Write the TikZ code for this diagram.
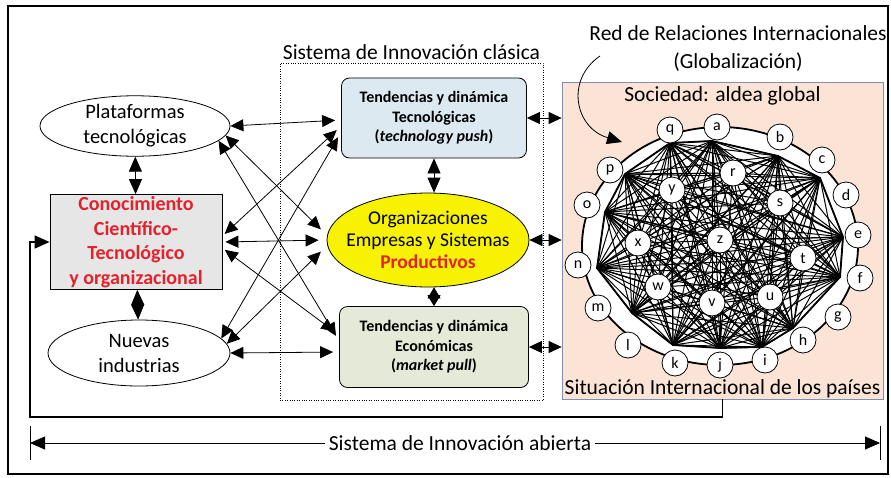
\documentclass[tikz,border=0pt]{standalone}
\usepackage{fontspec}
\setmainfont{Carlito}
\usepackage{tikz}
\usetikzlibrary{arrows.meta,positioning,shapes.geometric}

\definecolor{redtxt}{HTML}{E3222B}
\definecolor{bluebox}{HTML}{DCE9F1}
\definecolor{greenbox}{HTML}{E4EAD7}
\definecolor{yellowell}{HTML}{F7F300}
\definecolor{peach}{HTML}{FBE4D5}
\definecolor{panelline}{HTML}{8090AA}
\definecolor{greybox}{HTML}{E6E6E6}

\tikzset{
  big/.style={font=\fontsize{21.5}{25}\selectfont},
  oval/.style={ellipse, draw, thick, fill=white, inner sep=0pt, align=center, font=\fontsize{20.5}{25}\selectfont},
  tendbox/.style={draw, thick, rounded corners=8pt, minimum width=185pt, minimum height=80pt, align=center, font=\bfseries\fontsize{16}{19.5}\selectfont},
  country/.style={circle, draw, thick, fill=white, minimum size=26pt, inner sep=0pt, font=\fontsize{16}{16}\selectfont},
  mesh/.style={line width=1pt},
  onehead/.style={-{Triangle[length=15pt,width=13pt]}},
  twohead/.style={{Triangle[length=13pt,width=12pt]}-{Triangle[length=13pt,width=12pt]}, thick},
  diamarrow/.style={{Triangle[length=15pt,width=13pt]}-{Triangle[length=15pt,width=13pt]}, thick},
}

\begin{document}
\begin{tikzpicture}[x=1pt,y=-1pt]

\useasboundingbox (0,0) rectangle (891,477);
\draw[line width=1.5pt] (8,6) rectangle (888,474);

% left column
\node(plat)[oval, minimum width=190pt, minimum height=58pt] at (135,126) {Plataformas\\tecnológicas};

\node(cono)[draw, thick, fill=greybox, minimum width=172pt, minimum height=95pt, inner sep=1pt, align=center, text=redtxt, font=\bfseries\fontsize{20}{24.5}\selectfont] at (136,242) {Conocimiento\\Científico-\\Tecnológico\\y organizacional};

\node(nuev)[oval, minimum width=182pt, minimum height=66pt] at (139,353) {Nuevas\\industrias};

% sistema clasico
\node(clas)[draw, dotted, minimum width=263pt, minimum height=337pt] at (411.5,231.5) {};

\node(clastit)[big, inner sep=1pt, above = 2pt of clas] {Sistema de Innovación clásica};

\node(tecn)[tendbox, fill=bluebox] at (434,118) {Tendencias y dinámica\\Tecnológicas\\(\textit{technology push})};

\node(orga)[ellipse, draw, thick, fill=yellowell, minimum width=202pt, minimum height=94pt, inner xsep=-14pt, inner ysep=-4pt, align=center, font=\fontsize{19.5}{22}\selectfont] at (428,240) {Organizaciones\\Empresas y Sistemas\\\textcolor{redtxt}{\textbf{Productivos}}};

\node(econ)[tendbox, fill=greenbox, minimum width=189pt, minimum height=81pt] at (434,347) {Tendencias y dinámica\\Económicas\\(\textit{market pull})};

% panel internacional
\node(soc)[draw=panelline, fill=peach, thick, minimum width=321pt, minimum height=317pt] at (722.5,240.5) {};

\node(socit)[big, inner sep=1pt, below = 4pt of soc.north] {Sociedad: aldea global};

\node(situ)[big, inner sep=0pt, above = 1pt of soc.south] {Situación Internacional de los países};

\node(redtit)[align=center, inner sep=0pt, font=\fontsize{21.5}{28}\selectfont] at (738,49) {Red de Relaciones Internacionales\\(Globalización)};

% red de paises
\draw[line width=1.8pt, fill=white] (720,246) ellipse [x radius=138pt, y radius=119pt];

\coordinate(h1) at (670,143);
\coordinate(h2) at (712,141);
\coordinate(h3) at (778,156);
\coordinate(h4) at (820,178);
\coordinate(h5) at (843,237);
\coordinate(h6) at (840,277);
\coordinate(h7) at (793,328);
\coordinate(h8) at (762,347);
\coordinate(h9) at (720,348);
\coordinate(h10) at (673,345);
\coordinate(h11) at (632,313);
\coordinate(h12) at (597,268);
\coordinate(h13) at (605,212);
\coordinate(h14) at (625,174);

\draw[line width=1.8pt] (h1) -- (h2) -- (h3) -- (h4) -- (h5) -- (h6) -- (h7) -- (h8) -- (h9) -- (h10) -- (h11) -- (h12) -- (h13) -- (h14) -- cycle;

\coordinate(pr) at (733,173);
\coordinate(ps) at (780,203);
\coordinate(py) at (672,190);
\coordinate(px) at (638,243);
\coordinate(pz) at (720,240);
\coordinate(pt) at (803,258);
\coordinate(pw) at (658,287);
\coordinate(pv) at (712,303);
\coordinate(pu) at (770,297);

\foreach \i in {1,...,13}{
  \pgfmathtruncatemacro{\k}{\i+1}
  \foreach \j in {\k,...,14}{\draw[mesh] (h\i) -- (h\j);}
}
\foreach \c in {r,s,t,u,v,w,x,y,z}{
  \foreach \i in {1,...,14}{\draw[mesh] (h\i) -- (p\c);}
}

\foreach \c in {r,s,t,u,v,w,x,y,z}{
  \node(c\c)[country] at (p\c) {\c};
}

\node(cq)[country] at (670,130) {q};
\node(ca)[country] at (717,127) {a};
\node(cb)[country] at (780,137) {b};
\node(cc)[country] at (822,160) {c};
\node(cd)[country] at (846,195) {d};
\node(ce)[country] at (858,235) {e};
\node(cf)[country] at (860,278) {f};
\node(cg)[country] at (838,317) {g};
\node(ch)[country] at (803,340) {h};
\node(ci)[country] at (765,360) {i};
\node(cj)[country] at (720,365) {j};
\node(ck)[country] at (675,363) {k};
\node(cl)[country] at (628,345) {l};
\node(cm)[country] at (598,308) {m};
\node(cn)[country] at (578,265) {n};
\node(co)[country] at (587,205) {o};
\node(cp)[country] at (610,170) {p};

\coordinate(globst) at (600,56);
\coordinate(globtip) at (622,142);
\draw[onehead, thick] (globst) .. controls (565,80) and (575,128) .. (globtip);

% conexiones
\draw[diamarrow] (plat) -- (cono);
\draw[diamarrow] (cono) -- (nuev);
\draw[diamarrow] (tecn.south) -- (tecn.south |- orga.north);
\draw[diamarrow, {Triangle[length=11pt,width=13pt]}-{Triangle[length=11pt,width=13pt]}] (econ.north) -- (econ.north |- orga.south);

\draw[twohead, shorten >=6pt] (plat.east) -- ([yshift=-2pt]tecn.west);
\draw[twohead, shorten >=8pt] (plat.-6) -- ([yshift=5pt]orga.west);
\draw[twohead, shorten >=6pt] (plat.-10) -- ([yshift=6pt]econ.west);
\draw[twohead, shorten >=6pt, shorten <=3pt] ([yshift=6pt]cono.east) -- ([yshift=-8pt]tecn.west);
\draw[twohead, shorten >=8pt, shorten <=3pt] (cono.east) -- (orga.west);
\draw[twohead, shorten >=6pt, shorten <=3pt] ([yshift=-6pt]cono.east) -- ([yshift=12pt]econ.west);
\draw[twohead, shorten >=6pt] (nuev.10) -- ([yshift=-14pt]tecn.west);
\draw[twohead, shorten >=8pt] (nuev.6) -- ([yshift=-6pt]orga.west);
\draw[twohead, shorten >=6pt] (nuev.east) -- ([yshift=-5pt]econ.west);

\draw[twohead] (tecn.east) -- (tecn.east -| soc.west);
\draw[twohead] (orga.east) -- (orga.east -| soc.west);
\draw[twohead] (econ.east) -- (econ.east -| soc.west);

% innovacion abierta
\coordinate(fbl) at (30,417);
\draw[onehead, line width=1.6pt] (soc.south) |- (fbl) |- (cono.west);

\coordinate(abl) at (30,443);
\coordinate(abr) at (880,443);
\node(abie)[big, fill=white] at (460,443) {Sistema de Innovación abierta};
\draw[onehead, thick] (abie) -- (abl);
\draw[onehead, thick] (abie) -- (abr);
\draw[thick] ([yshift=17pt]abl) -- ([yshift=-17pt]abl);
\draw[thick] ([yshift=17pt]abr) -- ([yshift=-17pt]abr);

\end{tikzpicture}
\end{document}
